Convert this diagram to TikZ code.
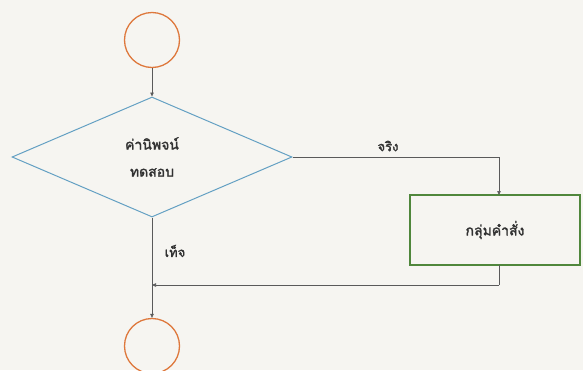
\documentclass[tikz,border=0pt]{standalone}
\usepackage{fontspec}
\newfontfamily\thaifont[Script=Thai,FakeBold=2]{Loma}
\usetikzlibrary{shapes.geometric,arrows.meta}
\definecolor{bgc}{RGB}{246,245,241}
\definecolor{circc}{RGB}{222,120,60}
\definecolor{diac}{RGB}{100,160,195}
\definecolor{recc}{RGB}{80,135,60}
\definecolor{linec}{RGB}{90,90,90}
\definecolor{txtc}{RGB}{50,50,50}
\tikzset{
  term/.style={circle,draw=circc,line width=1.3pt,minimum size=55pt,inner sep=0pt},
  dec/.style={diamond,draw=diac,line width=1pt,minimum width=280pt,minimum height=120pt,aspect=2.33,inner sep=0pt,text=txtc,align=center,font=\thaifont\fontsize{14}{27}\selectfont},
  proc/.style={rectangle,draw=recc,line width=1.2pt,minimum width=170pt,minimum height=70pt,text=txtc,font=\thaifont\fontsize{14}{17}\selectfont},
  conn/.style={draw=linec,line width=0.6pt,-{Triangle[length=4pt,width=3.5pt]}},
  lbl/.style={text=txtc,font=\thaifont\fontsize{13}{16}\selectfont}
}
\begin{document}
\begin{tikzpicture}[x=1pt,y=-1pt]
\fill[bgc] (0,0) rectangle (583,370);
\useasboundingbox (0,0) rectangle (583,370);
\node[term] (start) at (152,40) {};
\node[dec] (test) at (152,157) {ค่านิพจน์\\ทดสอบ};
\node[proc] (body) at (495,230) {กลุ่มคำสั่ง};
\node[term] (stop) at (152,346) {};
\coordinate (tr) at (499,157);
\coordinate (bodytop) at (499,195);
\coordinate (bodyb) at (499,265);
\coordinate (br) at (499,285);
\coordinate (merge) at (152,285);
\draw[conn] (start.south) -- (test.north);
\draw[conn] (test.east) -- (tr) -- (bodytop);
\draw[draw=linec,line width=0.6pt] (bodyb) -- (br);
\draw[conn] (br) -- (merge);
\draw[draw=linec,line width=0.6pt] (test.south) -- (merge);
\draw[conn] (merge) -- (stop.north);
\node[lbl] (ltrue) at (388,146) {จริง};
\node[lbl] (lfalse) at (175,251) {เท็จ};
\end{tikzpicture}
\end{document}
